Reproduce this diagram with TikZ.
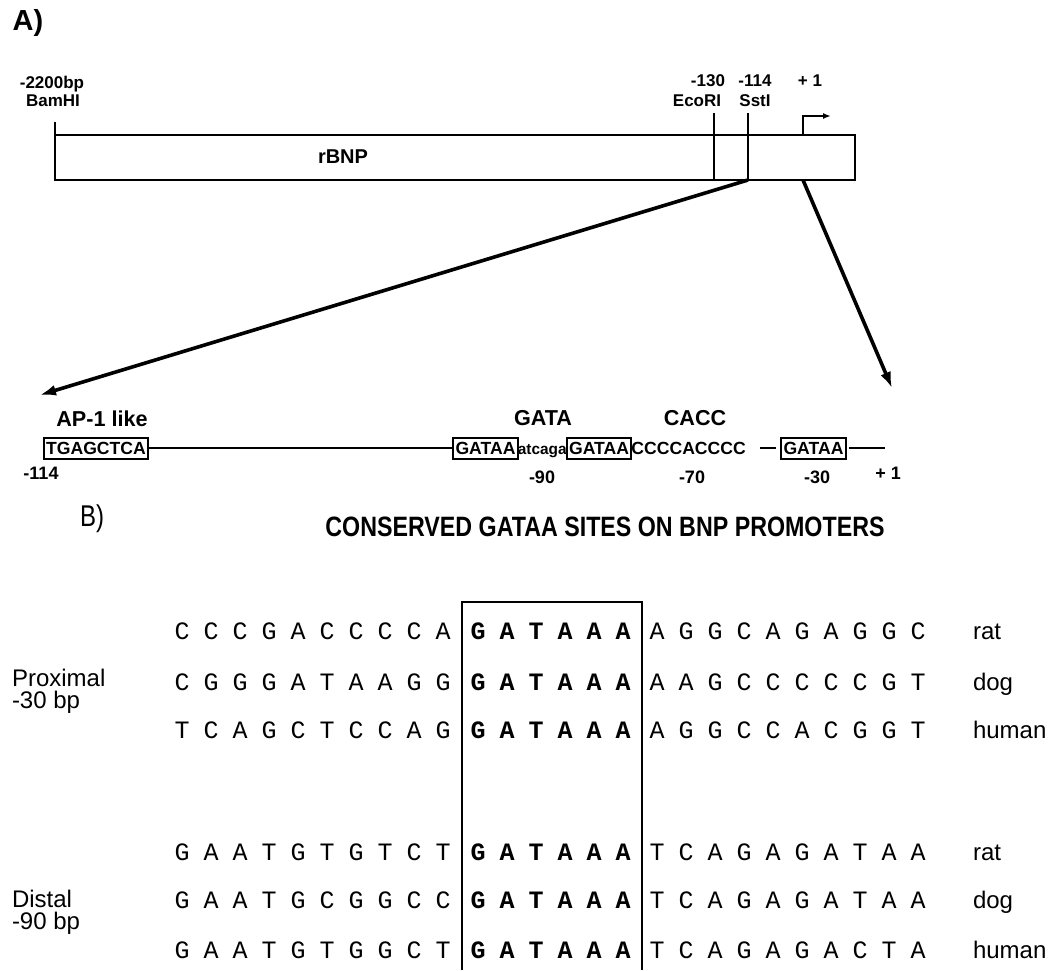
\documentclass[tikz,border=0pt]{standalone}
\usepackage{fontspec}
\setmainfont{Liberation Sans}
\setmonofont{Liberation Mono}
\usetikzlibrary{arrows.meta,positioning}

\newcommand{\seqrow}[5]{%
  \foreach \c [count=\i from 0] in {#3} \node[nt] (#1l\i) at (182+29*\i,#2) {\c};
  \foreach \c [count=\i from 0] in {G,A,T,A,A,A} \node[ntb] (#1m\i) at (478+29*\i,#2) {\c};
  \foreach \c [count=\i from 0] in {#4} \node[nt] (#1r\i) at (657+29*\i,#2) {\c};
  \node[species] (#1s) at (973,#2) {#5};
}

\begin{document}
\begin{tikzpicture}[x=0.5pt, y=-0.5pt, >=Latex, line width=0.8pt,
  every node/.style={inner sep=0pt, outer sep=0pt},
  lbl/.style={font=\bfseries\fontsize{8.5}{9}\selectfont},
  coord/.style={font=\bfseries\fontsize{9}{9}\selectfont},
  head/.style={font=\bfseries\fontsize{10.8}{11}\selectfont},
  site/.style={draw, line width=1pt, inner xsep=1.2pt, inner ysep=2pt, text height=6.5pt, text depth=0pt, font=\bfseries\fontsize{8.8}{9}\selectfont},
  plain/.style={text height=6.5pt, text depth=0pt, font=\bfseries\fontsize{8.8}{9}\selectfont},
  zoomline/.style={line width=1.8pt, -{Latex[length=8pt, width=5.5pt]}},
  nt/.style={text height=8pt, text depth=0pt, font=\ttfamily\fontsize{12.5}{13}\selectfont},
  ntb/.style={nt, font=\ttfamily\bfseries\fontsize{12.5}{13}\selectfont},
  species/.style={anchor=west, text height=8.6pt, text depth=0pt, font=\fontsize{12}{13}\selectfont},
  region/.style={anchor=west, align=left, font=\fontsize{12}{11}\selectfont}]
\useasboundingbox (0,0) rectangle (1053,970);

\node[font=\bfseries\fontsize{14.5}{15}\selectfont] (partA) at (28,23) {A)};
\node[draw, minimum width=400pt, minimum height=22.5pt] (gene) at (455,157.5) {};
\node[font=\bfseries\fontsize{10}{10}\selectfont] (rbnp) at (343,157) {rBNP};
\node[lbl] (bp) at (52,84) {-2200bp};
\node[lbl] (bam) at (53,101) {BamHI};
\node[lbl] (m130) at (708,81) {-130};
\node[lbl] (eco) at (697,101) {EcoRI};
\node[lbl] (m114) at (755,81) {-114};
\node[lbl] (sst) at (755,101) {SstI};
\node[lbl] (plus) at (810,81) {+\ 1};
\coordinate (bamtop) at (55,122);
\coordinate (ecotop) at (714,113);
\coordinate (ssttop) at (748,113);
\coordinate (tss) at (803,135);
\coordinate (tssend) at (831,116);
\draw (bamtop) -- (bamtop |- gene.south);
\draw (ecotop) -- (ecotop |- gene.south);
\draw (ssttop) -- (ssttop |- gene.south);
\draw[-{Latex[length=4pt, width=3pt]}] (tss |- gene.north) |- (tssend);

\coordinate (tipL) at (40,395);
\coordinate (tipR) at (892,388);
\draw[zoomline] (ssttop |- gene.south) -- (tipL);
\draw[zoomline] (tss |- gene.south) -- (tipR);

\node[site] (ap1) at (96,448) {TGAGCTCA};
\node[site] (g1) at (485.5,448) {GATAA};
\node[plain, font=\bfseries\fontsize{7.7}{8}\selectfont, right=0pt of g1] (spacer) {atcaga};
\node[site, right=0pt of spacer] (g2) {GATAA};
\node[plain, right=0pt of g2] (cacc) {CCCCACCCC};
\node[site] (g3) at (813.5,448) {GATAA};
\coordinate (end) at (885,448);
\draw (ap1) -- (g1);
\draw ([xshift=7pt]cacc.east) -- ([xshift=-2.5pt]g3.west);
\draw ([xshift=1.5pt]g3.east) -- (end);
\node[head] (ap1lbl) at (102,419) {AP-1 like};
\node[head] (gatalbl) at (543,418) {GATA};
\node[head] (cacclbl) at (695,418) {CACC};
\node[coord] (n114) at (41,473) {-114};
\node[coord] (n90) at (542,477) {-90};
\node[coord] (n70) at (692,477) {-70};
\node[coord] (n30) at (817,477) {-30};
\node[coord] (n1) at (888,473) {+\ 1};

\node[font=\fontsize{15}{15}\selectfont, xscale=0.8] (partB) at (92,519) {B)};
\node[font=\bfseries\fontsize{14}{14}\selectfont, xscale=0.83] (title) at (605,527) {CONSERVED GATAA SITES ON BNP PROMOTERS};
\draw[line width=1.2pt] (462,970) -- (462,602) -- (642,602) -- (642,970);

\seqrow{pr}{631}{C,C,C,G,A,C,C,C,C,A}{A,G,G,C,A,G,A,G,G,C}{rat}
\seqrow{pd}{682}{C,G,G,G,A,T,A,A,G,G}{A,A,G,C,C,C,C,C,G,T}{dog}
\seqrow{ph}{730}{T,C,A,G,C,T,C,C,A,G}{A,G,G,C,C,A,C,G,G,T}{human}
\seqrow{dr}{852}{G,A,A,T,G,T,G,T,C,T}{T,C,A,G,A,G,A,T,A,A}{rat}
\seqrow{dd}{900}{G,A,A,T,G,C,G,G,C,C}{T,C,A,G,A,G,A,T,A,A}{dog}
\seqrow{dh}{950}{G,A,A,T,G,T,G,G,C,T}{T,C,A,G,A,G,A,C,T,A}{human}
\node[region] (prox) at (12,691) {Proximal\\-30 bp};
\node[region] (dist) at (12,912) {Distal\\-90 bp};
\end{tikzpicture}
\end{document}
